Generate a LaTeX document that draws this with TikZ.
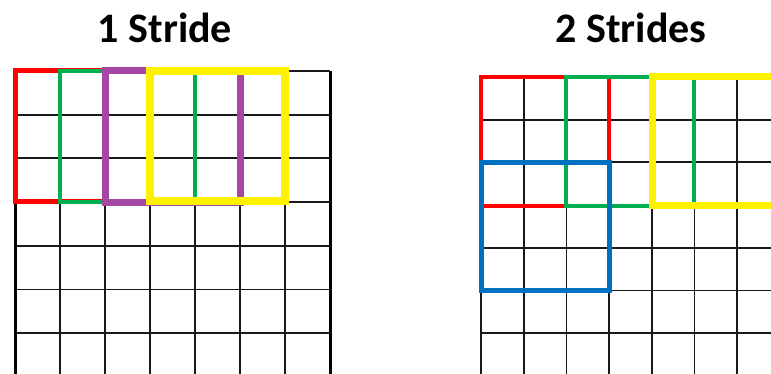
\documentclass[tikz,border=0pt]{standalone}
\usepackage{fontspec}
\setmainfont{Carlito}
\definecolor{bxred}{RGB}{255,0,0}
\definecolor{bxgreen}{RGB}{0,176,80}
\definecolor{bxpurple}{RGB}{163,73,164}
\definecolor{bxyellow}{RGB}{255,242,0}
\definecolor{bxblue}{RGB}{0,112,192}
\definecolor{gridc}{RGB}{25,25,25}
\tikzset{
  gridline/.style={draw=gridc, line width=1.8pt},
  gridborder/.style={draw=black, line width=3pt},
  title/.style={font=\bfseries\fontsize{42}{42}\selectfont, anchor=base, inner sep=0pt},
  win/.style={draw=#1, line cap=rect},
}
\begin{document}
\begin{tikzpicture}[x=1pt,y=-1pt]
\useasboundingbox (0,0) rectangle (771,374);
\clip (0,0) rectangle (771,374);
\fill[white] (0,0) rectangle (771,374);
% titles
\node[title] (t1) at (165,43) {1 Stride};
\node[title] (t2) at (631,43) {2 Strides};
% left grid
\foreach \i in {1,...,6} {\draw[gridline] (15+45*\i,71) -- (15+45*\i,380);}
\foreach \j in {0,...,7} {\draw[gridline] (15,71+43.7*\j) -- (330,71+43.7*\j);}
\draw[gridborder] (15,71) -- (15,380);
\draw[gridborder] (330,71) -- (330,380);
% left windows
\draw[win=bxred, line width=5pt] (15,71) rectangle (150,202);
\draw[win=bxgreen, line width=4pt] (60,71) rectangle (195,202);
\draw[win=bxpurple, line width=7pt] (105,71) rectangle (240,203);
\draw[win=bxyellow, line width=8pt] (150,71) rectangle (285,201);
% right grid
\foreach \i in {0,...,7} {\draw[gridline] (481+42.7*\i,77) -- (481+42.7*\i,380);}
\foreach \j in {0,...,7} {\draw[gridline] (481,77+42.7*\j) -- (800,77+42.7*\j);}
% right windows
\draw[win=bxred, line width=4.5pt] (481,77) rectangle (609,206);
\draw[win=bxgreen, line width=4.5pt] (566,77) rectangle (694,206);
\draw[win=bxblue, line width=5pt] (481,163) rectangle (609,290);
\draw[win=bxyellow, line width=7pt] (652,77) rectangle (823,206);
\end{tikzpicture}
\end{document}
